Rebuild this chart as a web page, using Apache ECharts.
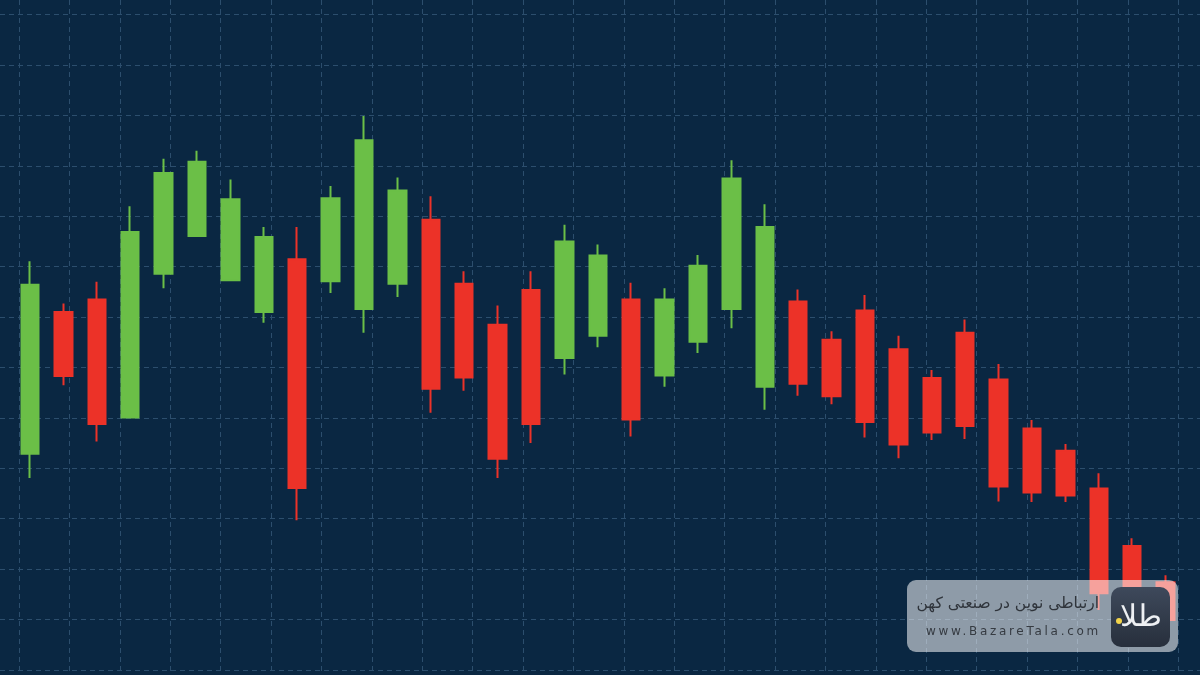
<!DOCTYPE html>
<html>
<head>
<meta charset="utf-8">
<script src="https://cdn.jsdelivr.net/npm/echarts@6/dist/echarts.min.js"></script>
<style>
  html, body { margin: 0; padding: 0; background: #0a2742; }
  #wrap { position: relative; width: 1200px; height: 675px; overflow: hidden; }
  #chart { position: absolute; left: 0; top: 0; width: 1200px; height: 675px; }
  #wm { position: absolute; left: 907px; top: 580px; width: 271px; height: 72px;
        border-radius: 9px; background: rgba(255,255,255,0.54); }
  #wm .fa { position: absolute; right: 79px; top: 12px; font-family: "DejaVu Sans", sans-serif;
        font-size: 15.5px; line-height: 22px; color: #2f343b; direction: rtl; white-space: nowrap; }
  #wm .url { position: absolute; left: 19px; top: 42px; font-family: "DejaVu Sans", sans-serif;
        font-size: 12px; line-height: 18px; letter-spacing: 2.7px; color: #363b42; white-space: nowrap; }
  #wm .logo { position: absolute; left: 204px; top: 7px; width: 59px; height: 60px; border-radius: 10px;
        background: linear-gradient(#3e495b, #272f3c); }
  #wm .logo .g { position: absolute; left: 0; top: 7px; width: 59px; text-align: center;
        font-family: "DejaVu Sans", sans-serif; font-weight: 200; font-size: 30px; line-height: 44px; color: #eef0f3; }
  #wm .logo .dot { position: absolute; left: 5px; top: 31px; width: 6px; height: 6px; border-radius: 3px; background: #f2d34a; }
</style>
</head>
<body>
<div id="wrap">
  <div id="chart"></div>
  <div id="wm">
    <div class="fa">ارتباطی نوین در صنعتی کهن</div>
    <div class="url">www.BazareTala.com</div>
    <div class="logo"><div class="g">طلا</div><div class="dot"></div></div>
  </div>
</div>
<script>
var categories = ['1','2','3','4','5','6','7','8','9','10','11','12','13','14','15','16','17','18',
  '19','20','21','22','23','24','25','26','27','28','29','30','31','32','33','34','35'];
var opens  = [42.9, 71.0, 73.5, 50.1, 78.6, 86.1, 77.3, 71.0, 81.5, 77.1, 71.6, 76.6, 89.3, 76.6, 68.5, 75.4, 61.9, 66.3,
  73.5, 58.4, 65.1, 71.6, 56.2, 73.1, 65.5, 71.3, 63.6, 57.9, 66.9, 57.6, 47.9, 43.5, 36.0, 24.6, 17.4];
var closes = [76.4, 58.3, 48.8, 86.9, 98.6, 100.8, 93.4, 85.9, 36.1, 93.6, 105.1, 95.1, 55.8, 58.0, 41.9, 48.8, 85.0, 82.2,
  49.7, 73.5, 80.2, 97.5, 87.9, 56.8, 54.3, 49.2, 44.7, 47.1, 48.4, 36.4, 35.2, 34.6, 15.2, 13.9, 9.9];
var lows   = [38.1, 56.5, 45.3, 50.1, 75.7, 86.1, 77.3, 68.9, 29.7, 74.8, 66.9, 74.0, 51.0, 55.4, 38.1, 45.0, 58.6, 64.0,
  46.3, 56.2, 62.9, 67.8, 51.6, 54.4, 52.7, 46.1, 42.0, 45.6, 45.8, 33.4, 33.3, 33.3, 11.9, 11.5, 9.0];
var highs  = [81.1, 72.7, 77.0, 92.0, 101.4, 103.0, 97.3, 87.9, 87.9, 96.0, 109.9, 97.7, 94.0, 79.1, 72.3, 79.1, 88.3, 84.4,
  76.8, 75.7, 82.3, 101.1, 92.4, 75.5, 67.2, 74.4, 66.3, 59.5, 69.5, 60.7, 49.6, 44.8, 39.0, 26.1, 18.8];

var ohlc = categories.map(function (c, i) { return [opens[i], closes[i], lows[i], highs[i]]; });

var gridLine = { show: true, lineStyle: { color: '#2c4e6d', width: 1, type: [5, 4] } };
var hidden = { show: false };

var chart = echarts.init(document.getElementById('chart'), null, { renderer: 'canvas' });
chart.setOption({
  backgroundColor: '#0a2742',
  animation: false,
  grid: [
    { left: 0, right: 0, top: 14.7, bottom: 5.1 },
    { left: 19, right: 21.8, top: 0, bottom: 0 },
    { left: 13.3, right: 17.7, top: 14.7, bottom: 5.1 }
  ],
  xAxis: [
    { gridIndex: 0, type: 'value', min: 0, max: 1, axisLine: hidden, axisTick: hidden, axisLabel: hidden, splitLine: hidden },
    { gridIndex: 1, type: 'value', min: 0, max: 23, interval: 1, axisLine: hidden, axisTick: hidden, axisLabel: hidden, splitLine: gridLine },
    { gridIndex: 2, type: 'category', data: categories, boundaryGap: true, axisLine: hidden, axisTick: hidden, axisLabel: hidden, splitLine: hidden }
  ],
  yAxis: [
    { gridIndex: 0, type: 'value', min: 0, max: 130, interval: 10, axisLine: hidden, axisTick: hidden, axisLabel: hidden, splitLine: gridLine },
    { gridIndex: 1, type: 'value', min: 0, max: 1, axisLine: hidden, axisTick: hidden, axisLabel: hidden, splitLine: hidden },
    { gridIndex: 2, type: 'value', min: 0, max: 130, interval: 10, axisLine: hidden, axisTick: hidden, axisLabel: hidden, splitLine: hidden }
  ],
  series: [{
    type: 'candlestick',
    xAxisIndex: 2,
    yAxisIndex: 2,
    data: ohlc,
    barWidth: 18,
    itemStyle: {
      color: '#6bbf47',
      color0: '#ec3228',
      borderColor: '#6bbf47',
      borderColor0: '#ec3228',
      borderWidth: 2
    }
  }]
});
</script>
</body>
</html>
